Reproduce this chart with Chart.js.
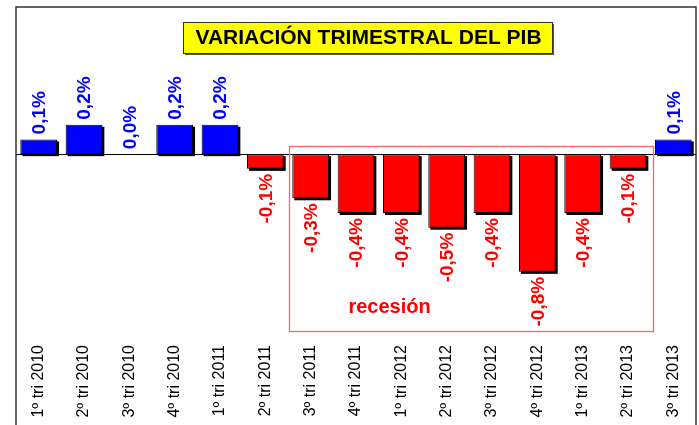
<!DOCTYPE html>
<html>
<head>
<meta charset="utf-8">
<script src="https://cdn.jsdelivr.net/npm/chart.js@4"></script>
<style>
html,body{margin:0;padding:0;background:#fff;overflow:hidden;}
#wrap{width:699px;height:425px;position:relative;}
</style>
</head>
<body>
<div id="wrap"><canvas id="c" width="699" height="425"></canvas></div>
<script>
const categories = ["1º tri 2010","2º tri 2010","3º tri 2010","4º tri 2010","1º tri 2011","2º tri 2011","3º tri 2011","4º tri 2011","1º tri 2012","2º tri 2012","3º tri 2012","4º tri 2012","1º tri 2013","2º tri 2013","3º tri 2013"];
const variacion = [0.1, 0.2, 0.0, 0.2, 0.2, -0.1, -0.3, -0.4, -0.4, -0.5, -0.4, -0.8, -0.4, -0.1, 0.1];
const titleText = "VARIACIÓN TRIMESTRAL DEL PIB";
const recessionText = "recesión";

const FONT = "'Liberation Sans', Arial, Helvetica, sans-serif";
const BLUE = "#0000FF", RED = "#FF0000";

const decor = {
  id: 'decor',
  beforeDatasetsDraw(chart) {
    const {ctx, chartArea: a, scales: {x, y}} = chart;
    ctx.save();
    // frame
    ctx.strokeStyle = '#333';
    ctx.lineWidth = 1.5;
    ctx.beginPath();
    ctx.moveTo(a.left, chart.height + 5);
    ctx.lineTo(a.left, a.top);
    ctx.lineTo(a.right, a.top);
    ctx.lineTo(a.right, chart.height + 5);
    ctx.stroke();
    // zero line
    const y0 = Math.round(y.getPixelForValue(0)) + 0.5;
    ctx.strokeStyle = '#000';
    ctx.lineWidth = 1;
    ctx.beginPath();
    ctx.moveTo(a.left, y0);
    ctx.lineTo(a.right, y0);
    ctx.stroke();
    // bar shadows
    const meta = chart.getDatasetMeta(0);
    ctx.fillStyle = '#000';
    meta.data.forEach((el, i) => {
      const v = variacion[i];
      if (v === 0) return;
      const p = el.getProps(['x','y','base','width'], true);
      const top = Math.min(p.y, p.base), bot = Math.max(p.y, p.base);
      ctx.fillRect(p.x - p.width/2 + 2, top + 2, p.width, bot - top);
    });
    ctx.restore();
  },
  afterDatasetsDraw(chart) {
    const {ctx, scales: {x, y}} = chart;
    ctx.save();
    // recession box
    const xl = x.getPixelForValue(5.5) + 0.5;
    const xr = x.getPixelForValue(13.53);
    const yt = y.getPixelForValue(0.055);
    const yb = y.getPixelForValue(-1.2);
    ctx.strokeStyle = '#FF6666';
    ctx.lineWidth = 1.3;
    ctx.strokeRect(Math.round(xl) + 0.5, Math.round(yt) + 0.5, Math.round(xr - xl), Math.round(yb - yt));
    ctx.fillStyle = RED;
    ctx.font = "bold 20px " + FONT;
    ctx.textAlign = 'center';
    ctx.textBaseline = 'middle';
    ctx.fillText(recessionText, x.getPixelForValue(7.74), y.getPixelForValue(-1.045));
    // value labels
    const meta = chart.getDatasetMeta(0);
    ctx.font = "bold 19px " + FONT;
    meta.data.forEach((el, i) => {
      const v = variacion[i];
      const p = el.getProps(['x','y','base'], true);
      const txt = v.toFixed(1).replace('.', ',') + '%';
      ctx.save();
      if (v >= 0) {
        ctx.translate(p.x + 1, Math.min(p.y, p.base) - 5);
        ctx.rotate(-Math.PI/2);
        ctx.textAlign = 'left';
        ctx.fillStyle = BLUE;
      } else {
        ctx.translate(p.x + 1, p.y + 5);
        ctx.rotate(-Math.PI/2);
        ctx.textAlign = 'right';
        ctx.fillStyle = RED;
      }
      ctx.textBaseline = 'middle';
      ctx.fillText(txt, 0, 0);
      ctx.restore();
    });
    // title box
    const bx = 183, by = 22, bw = 369, bh = 31;
    ctx.fillStyle = '#555';
    ctx.fillRect(bx + 2, by + 2, bw, bh);
    ctx.fillStyle = '#FFFF00';
    ctx.fillRect(bx, by, bw, bh);
    ctx.strokeStyle = '#333';
    ctx.lineWidth = 1;
    ctx.strokeRect(bx + 0.5, by + 0.5, bw, bh);
    ctx.fillStyle = '#000';
    ctx.font = "bold 21px " + FONT;
    ctx.textAlign = 'center';
    ctx.textBaseline = 'middle';
    ctx.fillText(titleText, bx + bw/2 + 1, by + bh/2 + 1);
    ctx.restore();
  }
};

new Chart(document.getElementById('c'), {
  type: 'bar',
  data: {
    labels: categories,
    datasets: [{
      data: variacion,
      backgroundColor: c => (c.raw >= 0 ? BLUE : RED),
      borderColor: '#000',
      borderWidth: c => (c.raw === 0 ? 0 : 1),
      borderSkipped: false,
      barPercentage: 0.81,
      categoryPercentage: 1.0
    }]
  },
  options: {
    responsive: false,
    animation: false,
    layout: { padding: { top: 7, left: 16, right: 3, bottom: 0 } },
    plugins: { legend: { display: false }, tooltip: { enabled: false }, title: { display: false } },
    scales: {
      x: {
        grid: { display: false, drawTicks: false },
        border: { display: false },
        ticks: {
          autoSkip: false, maxRotation: 90, minRotation: 90, padding: 4,
          color: '#000', font: { family: FONT, size: 16 }
        },
        afterFit: s => { s.height = 84; }
      },
      y: {
        display: false,
        min: -1.27, max: 1.0
      }
    }
  },
  plugins: [decor]
});
</script>
</body>
</html>
